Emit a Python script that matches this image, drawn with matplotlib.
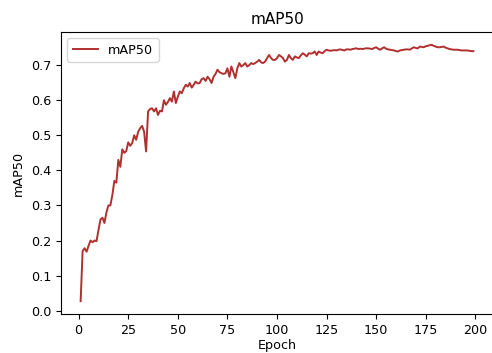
import matplotlib
matplotlib.use("Agg")
import matplotlib.pyplot as plt

epochs = list(range(1, 200))
map50 = [
    0.027, 0.170, 0.178, 0.168, 0.185, 0.200, 0.195, 0.200, 0.198, 0.230,
    0.260, 0.265, 0.250, 0.280, 0.300, 0.300, 0.330, 0.370, 0.365, 0.430,
    0.410, 0.460, 0.450, 0.455, 0.480, 0.470, 0.478, 0.500, 0.487, 0.510,
    0.520, 0.527, 0.510, 0.454, 0.568, 0.575, 0.577, 0.568, 0.577, 0.558,
    0.570, 0.568, 0.600, 0.587, 0.595, 0.606, 0.596, 0.625, 0.592, 0.610,
    0.625, 0.620, 0.634, 0.644, 0.639, 0.649, 0.636, 0.644, 0.653, 0.648,
    0.649, 0.660, 0.663, 0.655, 0.667, 0.660, 0.649, 0.667, 0.675, 0.687,
    0.680, 0.677, 0.675, 0.677, 0.691, 0.667, 0.696, 0.680, 0.663, 0.691,
    0.706, 0.696, 0.700, 0.706, 0.696, 0.700, 0.706, 0.703, 0.706, 0.710,
    0.715, 0.708, 0.706, 0.710, 0.720, 0.729, 0.720, 0.715, 0.715, 0.720,
    0.729, 0.725, 0.720, 0.710, 0.715, 0.729, 0.720, 0.715, 0.725, 0.722,
    0.720, 0.728, 0.734, 0.730, 0.725, 0.734, 0.733, 0.734, 0.739, 0.729,
    0.739, 0.736, 0.734, 0.740, 0.744, 0.742, 0.741, 0.742, 0.743, 0.742,
    0.744, 0.745, 0.743, 0.742, 0.745, 0.745, 0.744, 0.746, 0.747, 0.748,
    0.746, 0.747, 0.746, 0.747, 0.748, 0.748, 0.747, 0.746, 0.749, 0.751,
    0.747, 0.744, 0.748, 0.751, 0.747, 0.745, 0.744, 0.743, 0.742, 0.740,
    0.739, 0.742, 0.743, 0.744, 0.745, 0.745, 0.744, 0.748, 0.751, 0.749,
    0.748, 0.753, 0.752, 0.751, 0.754, 0.755, 0.757, 0.758, 0.755, 0.753,
    0.751, 0.751, 0.752, 0.753, 0.750, 0.748, 0.746, 0.745, 0.744, 0.744,
    0.744, 0.743, 0.742, 0.742, 0.742, 0.742, 0.741, 0.740, 0.740,
]

fig = plt.figure(figsize=(4.92, 3.53), dpi=100)
ax = fig.add_axes([61 / 492, 39 / 353, 432 / 492, 282 / 353])
ax.plot(epochs, map50, color="#b03030", linewidth=1.4, label="mAP50")
ax.set_title("mAP50", fontsize=11)
ax.set_xlabel("Epoch", fontsize=9.2, labelpad=2)
ax.set_ylabel("mAP50", fontsize=9.2)
ax.tick_params(labelsize=9.2)
ax.set_xticks([0, 25, 50, 75, 100, 125, 150, 175, 200])
ax.set_yticks([0.0, 0.1, 0.2, 0.3, 0.4, 0.5, 0.6, 0.7])
ax.legend(loc="upper left", fontsize=9.2)
fig.savefig("out.png", dpi=100)
